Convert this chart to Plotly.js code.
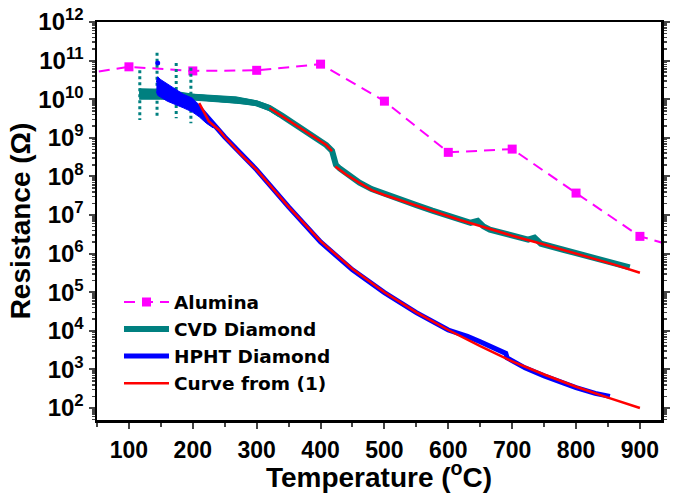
<!DOCTYPE html>
<html>
<head>
<meta charset="utf-8">
<script src="https://cdn.plot.ly/plotly-3.0.1.min.js"></script>
<style>html,body{margin:0;padding:0;background:#fff;}#chart{width:673px;height:493px;}</style>
</head>
<body>
<div id="chart"></div>
<script>
// Alumina
const aluminaT = [25, 100, 200, 300, 400, 500, 600, 700, 800, 900, 1000];
const aluminaR = [4.4e10, 6.9e10, 5.4e10, 5.6e10, 8.1e10, 8.9e9, 4.2e8, 5.1e8, 3.7e7, 2.8e6, 9.5e5];

// CVD Diamond (measured trend)
const cvdT = [116, 150, 200, 250, 280, 300, 320, 340, 362, 387, 409, 418, 421, 424, 430, 461, 480, 500, 523, 550, 575, 600, 618, 635, 646, 655, 665, 700, 725, 735, 745, 780, 822, 860, 884];
const cvdR = [1.41e10, 1.35e10, 1.15e10, 1.0e10, 8.9e9, 7.8e9, 5.9e9, 3.7e9, 2.1e9, 1.2e9, 6.5e8, 4.6e8, 3.2e8, 2.0e8, 1.6e8, 6.9e7, 4.7e7, 3.5e7, 2.5e7, 1.8e7, 1.3e7, 9.5e6, 7.6e6, 6.3e6, 7.1e6, 5.1e6, 4.2e6, 3.0e6, 2.3e6, 2.6e6, 1.8e6, 1.26e6, 8.1e5, 5.4e5, 4.4e5];
// CVD noisy band at low temperature (upper edge then lower edge)
const cvdBandT = [116, 150, 200, 268, 300, 320, 335, 335, 320, 300, 268, 200, 150, 116];
const cvdBandR = [1.86e10, 1.82e10, 1.35e10, 1.15e10, 9.1e9, 6.9e9, 4.8e9, 3.5e9, 5.0e9, 6.8e9, 7.9e9, 9.5e9, 1.0e10, 1.0e10];
// CVD spikes (vertical scatter columns)
const cvdSpikeT = [117, 117, null, 144, 144, null, 174, 174, null, 197, 197];
const cvdSpikeR = [5.6e10, 2.9e9, null, 1.6e11, 3.6e9, null, 8.7e10, 3.2e9, null, 6.5e10, 2.4e9];

// HPHT Diamond
const hphtT = [210, 225, 250, 300, 350, 400, 450, 500, 550, 600, 612, 630, 650, 670, 690, 692, 720, 750, 770, 800, 830, 853];
const hphtR = [6.0e9, 3.0e9, 1.05e9, 1.48e8, 1.62e7, 2.0e6, 3.8e5, 9.8e4, 2.95e4, 1.05e4, 9.1e3, 7.2e3, 5.2e3, 3.7e3, 2.6e3, 2.0e3, 1.1e3, 680, 500, 340, 240, 200];
// HPHT noisy blob at low temperature (upper edge then lower edge)
const hphtBlobT = [143, 145, 150, 160, 174, 185, 199, 210, 221, 232, 232, 221, 210, 199, 185, 174, 160, 150, 145, 143];
const hphtBlobR = [2.8e10, 3.8e10, 3.2e10, 2.5e10, 1.74e10, 1.35e10, 1.07e10, 7.1e9, 3.9e9, 2.2e9, 1.8e9, 2.4e9, 3.5e9, 4.7e9, 6.0e9, 7.1e9, 8.9e9, 1.12e10, 1.26e10, 1.58e10];
const hphtDotT = [145];
const hphtDotR = [8.7e10];

// Curve from (1): HPHT fit, CVD fit part 1, CVD fit part 2
const fitT = [210, 225, 241, 250, 275, 300, 350, 400, 450, 500, 550, 600, 650, 700, 750, 800, 850, 900, null,
              320, 340, 362, 387, 409, 418, null,
              423, 440, 461, 480, 500, 523, 550, 575, 600, 618, 650, 700, 743, 780, 822, 860, 900];
const fitR = [7.9e9, 2.7e9, 1.6e9, 1.05e9, 3.8e8, 1.48e8, 1.62e7, 2.1e6, 4.0e5, 1.0e5, 3.0e4, 1.05e4, 4.0e3, 1.62e3, 740, 355, 186, 100, null,
              5.9e9, 3.6e9, 2.1e9, 1.17e9, 6.5e8, 4.5e8, null,
              1.8e8, 1.12e8, 6.8e7, 4.4e7, 3.3e7, 2.45e7, 1.74e7, 1.26e7, 9.1e6, 7.4e6, 5.2e6, 2.9e6, 1.86e6, 1.26e6, 8.1e5, 5.2e5, 3.2e5];

// Tick labels
const xTickVals = [100, 200, 300, 400, 500, 600, 700, 800, 900];
const yTickVals = [1e2, 1e3, 1e4, 1e5, 1e6, 1e7, 1e8, 1e9, 1e10, 1e11, 1e12];
const yTickText = ['10<sup>2</sup>', '10<sup>3</sup>', '10<sup>4</sup>', '10<sup>5</sup>', '10<sup>6</sup>', '10<sup>7</sup>',
                   '10<sup>8</sup>', '10<sup>9</sup>', '10<sup>10</sup>', '10<sup>11</sup>', '10<sup>12</sup>'];

const FONT = 'Liberation Sans, Arial, sans-serif';
const LFONT = 'DejaVu Sans, sans-serif';
const TEAL = '#008080', MAG = '#FF00FF', BLUE = '#0000FF', RED = '#FF0000';

const traces = [
  {x: aluminaT, y: aluminaR, name: 'Alumina', mode: 'lines+markers', legendgroup: 'a',
   line: {color: MAG, width: 2, dash: '11px,7px'}, marker: {symbol: 'square', size: 9, color: MAG}},
  {x: cvdSpikeT, y: cvdSpikeR, mode: 'lines', showlegend: false, legendgroup: 'c',
   line: {color: TEAL, width: 3, dash: 'dot'}, hoverinfo: 'skip'},
  {x: cvdBandT, y: cvdBandR, mode: 'lines', fill: 'toself', fillcolor: TEAL, showlegend: false, legendgroup: 'c',
   line: {color: TEAL, width: 1}, hoverinfo: 'skip'},
  {x: cvdT, y: cvdR, name: 'CVD Diamond', mode: 'lines', legendgroup: 'c',
   line: {color: TEAL, width: 6}},
  {x: hphtBlobT, y: hphtBlobR, mode: 'lines', fill: 'toself', fillcolor: BLUE, showlegend: false, legendgroup: 'h',
   line: {color: BLUE, width: 1}, hoverinfo: 'skip'},
  {x: hphtDotT, y: hphtDotR, mode: 'markers', showlegend: false, legendgroup: 'h',
   marker: {color: BLUE, size: 5}},
  {x: hphtT, y: hphtR, name: 'HPHT Diamond', mode: 'lines', legendgroup: 'h',
   line: {color: BLUE, width: 5}},
  {x: fitT, y: fitR, name: 'Curve from (1)', mode: 'lines', legendgroup: 'f', connectgaps: false,
   line: {color: RED, width: 2.5}}
];

const layout = {
  width: 673, height: 493,
  margin: {l: 97, r: 12, t: 22, b: 73},
  paper_bgcolor: '#fff', plot_bgcolor: '#fff',
  font: {family: FONT, color: '#000'},
  showlegend: true,
  legend: {x: 0.039, y: 0.343, xanchor: 'left', yanchor: 'top', bgcolor: 'rgba(0,0,0,0)',
           font: {family: LFONT, size: 18.5, weight: 'bold', color: '#000'},
           traceorder: 'grouped', tracegroupgap: 0, itemwidth: 45},
  xaxis: {range: [50, 933], tickmode: 'array', tickvals: xTickVals, ticks: 'outside', ticklen: 6, tickwidth: 2,
          showline: true, linewidth: 2.5, linecolor: '#000', mirror: true, showgrid: false, zeroline: false,
          minor: {dtick: 50, tick0: 0, ticks: 'outside', ticklen: 4, tickwidth: 2, showgrid: false},
          ticklabelstandoff: 2,
          tickfont: {family: FONT, size: 23, weight: 'bold'},
          title: {text: 'Temperature (<sup>o</sup>C)', font: {family: FONT, size: 28, weight: 'bold'}, standoff: 6}},
  yaxis: {type: 'log', range: [1.69, 12], tickmode: 'array', tickvals: yTickVals, ticktext: yTickText,
          ticks: 'outside', ticklen: 6, tickwidth: 2,
          showline: true, linewidth: 2.5, linecolor: '#000', mirror: 'ticks', showgrid: false, zeroline: false,
          minor: {dtick: 'D1', ticks: 'outside', ticklen: 3, tickwidth: 1.5, showgrid: false},
          tickfont: {family: FONT, size: 24, weight: 'bold'},
          title: {text: 'Resistance (Ω)', font: {family: FONT, size: 28, weight: 'bold'}, standoff: 0}}
};

Plotly.newPlot('chart', traces, layout, {displayModeBar: false, staticPlot: true});
</script>
</body>
</html>
